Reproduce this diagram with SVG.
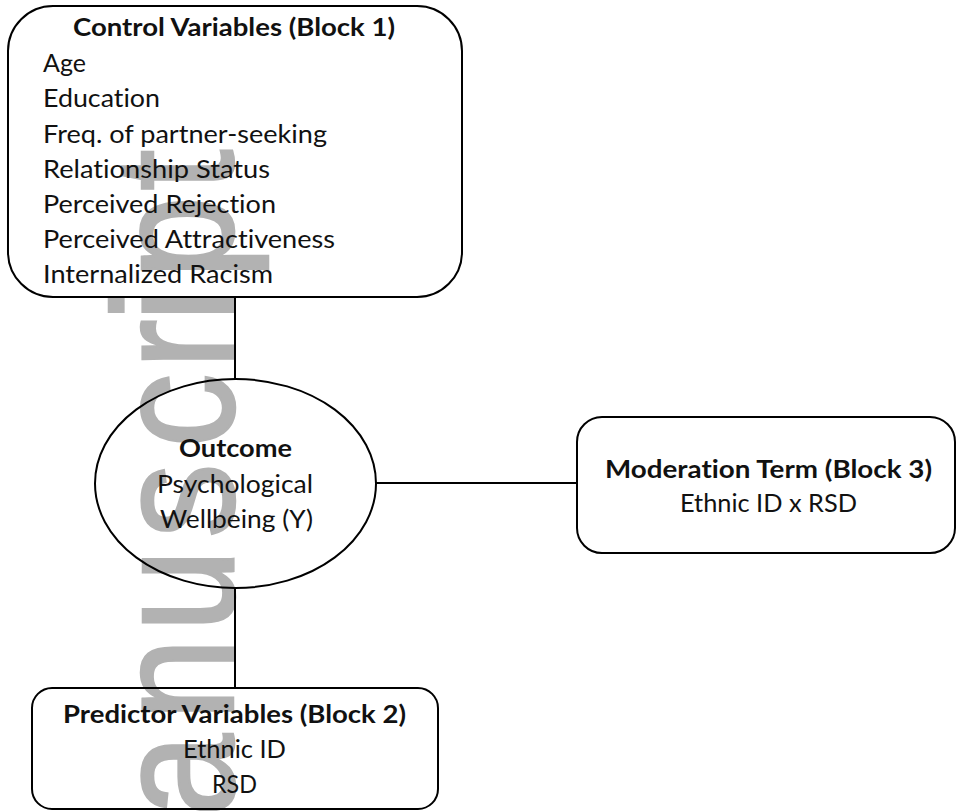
<svg xmlns="http://www.w3.org/2000/svg" width="957" height="811" viewBox="0 0 957 811">
<style>
.box{fill:none;stroke:#000;stroke-width:2}
.conn{fill:none;stroke:#000;stroke-width:2}
text{font-family:Lato,"Open Sans","Liberation Sans",sans-serif;font-size:25px;fill:#111;font-variant-ligatures:none;font-feature-settings:"liga" 0,"dlig" 0}
.b{font-weight:bold}
.wm{font-family:"Liberation Sans",Arial,sans-serif;font-size:170px;fill:#b2b2b2;stroke:#b2b2b2;stroke-width:2.5}
</style>
<rect width="957" height="811" fill="#fff"/>
<g id="watermark" transform="translate(233,0) rotate(-90) scale(0.88,1)">
<text class="wm" x="-928.4 -819.3 -718.2 -611.4 -509.1 -419.3 -365.9 -317 -217" y="0">anuscript</text>
</g>
<g id="connectors">
<line class="conn" x1="235" y1="297" x2="235" y2="379"/>
<line class="conn" x1="376" y1="483" x2="577" y2="483"/>
<line class="conn" x1="235" y1="588" x2="235" y2="688"/>
</g>
<g id="control">
<rect class="box" x="8" y="6" width="454" height="291" rx="45" ry="45"/>
<text class="b" x="73" y="36" textLength="322" lengthAdjust="spacingAndGlyphs">Control Variables (Block 1)</text>
<text x="43" y="72" textLength="43" lengthAdjust="spacingAndGlyphs">Age</text>
<text x="43" y="107" textLength="117" lengthAdjust="spacingAndGlyphs">Education</text>
<text x="43" y="142.5" textLength="284" lengthAdjust="spacingAndGlyphs">Freq. of partner-seeking</text>
<text x="43" y="177.5" textLength="227" lengthAdjust="spacingAndGlyphs">Relationship Status</text>
<text x="43" y="212.5" textLength="233" lengthAdjust="spacingAndGlyphs">Perceived Rejection</text>
<text x="43" y="247.5" textLength="292" lengthAdjust="spacingAndGlyphs">Perceived Attractiveness</text>
<text x="43" y="283" textLength="230" lengthAdjust="spacingAndGlyphs">Internalized Racism</text>
</g>
<g id="outcome">
<ellipse class="box" cx="235.5" cy="483.5" rx="140.5" ry="104.5"/>
<text class="b" x="179" y="457" textLength="113" lengthAdjust="spacingAndGlyphs">Outcome</text>
<text x="157" y="493" textLength="156" lengthAdjust="spacingAndGlyphs">Psychological</text>
<text x="160" y="528" textLength="153" lengthAdjust="spacingAndGlyphs">Wellbeing (Y)</text>
</g>
<g id="moderation">
<rect class="box" x="577" y="417" width="378" height="136" rx="25" ry="25"/>
<text class="b" x="605" y="478" textLength="327" lengthAdjust="spacingAndGlyphs">Moderation Term (Block 3)</text>
<text x="680" y="512" textLength="177" lengthAdjust="spacingAndGlyphs">Ethnic ID x RSD</text>
</g>
<g id="predictor">
<rect class="box" x="32" y="688" width="406" height="121" rx="20" ry="20"/>
<text class="b" x="63" y="723" textLength="343" lengthAdjust="spacingAndGlyphs">Predictor Variables (Block 2)</text>
<text x="183" y="758" textLength="103" lengthAdjust="spacingAndGlyphs">Ethnic ID</text>
<text x="212" y="793" textLength="45" lengthAdjust="spacingAndGlyphs">RSD</text>
</g>
</svg>
